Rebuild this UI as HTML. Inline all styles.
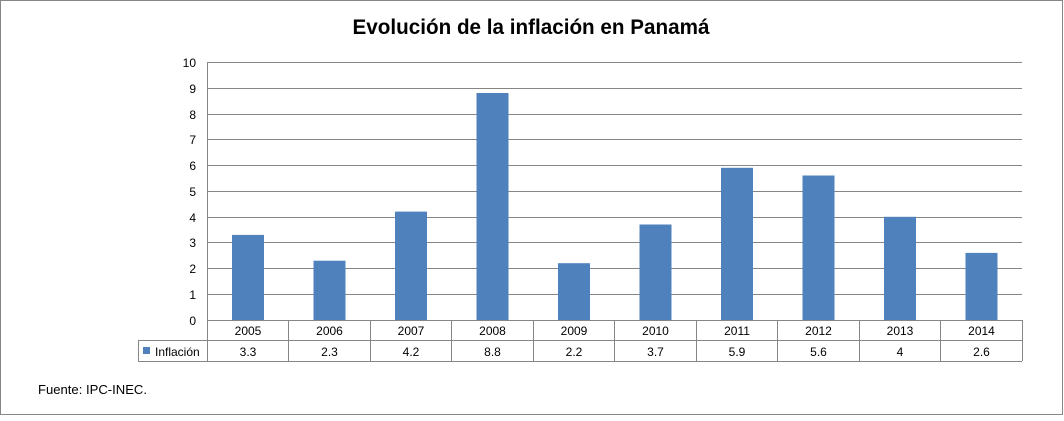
<!DOCTYPE html>
<html><head><meta charset="utf-8"><style>html,body{margin:0;padding:0;background:#fff}</style></head>
<body>
<svg width="1064" height="416" xmlns="http://www.w3.org/2000/svg" font-family="Liberation Sans, DejaVu Sans, sans-serif">
<rect x="0.5" y="0.5" width="1062" height="414" fill="#fff" stroke="#868686"/>
<text x="531" y="34" text-anchor="middle" font-size="21" font-weight="bold" fill="#000" textLength="357" lengthAdjust="spacingAndGlyphs">Evolución de la inflación en Panamá</text>
<g stroke="#868686" stroke-width="1">
<line x1="207" y1="62.5" x2="1022" y2="62.5"/>
<line x1="207" y1="88.5" x2="1022" y2="88.5"/>
<line x1="207" y1="114.5" x2="1022" y2="114.5"/>
<line x1="207" y1="139.5" x2="1022" y2="139.5"/>
<line x1="207" y1="165.5" x2="1022" y2="165.5"/>
<line x1="207" y1="191.5" x2="1022" y2="191.5"/>
<line x1="207" y1="217.5" x2="1022" y2="217.5"/>
<line x1="207" y1="242.5" x2="1022" y2="242.5"/>
<line x1="207" y1="268.5" x2="1022" y2="268.5"/>
<line x1="207" y1="294.5" x2="1022" y2="294.5"/>
</g>
<g fill="#4f81bd">
<rect x="232" y="234.9" width="32" height="85.1"/>
<rect x="313.5" y="260.7" width="32" height="59.3"/>
<rect x="395" y="211.6" width="32" height="108.4"/>
<rect x="476.5" y="93" width="32" height="227"/>
<rect x="558" y="263.2" width="32" height="56.8"/>
<rect x="639.5" y="224.5" width="32" height="95.5"/>
<rect x="721" y="167.8" width="32" height="152.2"/>
<rect x="802.5" y="175.5" width="32" height="144.5"/>
<rect x="884" y="216.8" width="32" height="103.2"/>
<rect x="965.5" y="252.9" width="32" height="67.1"/>
</g>
<g stroke="#868686" stroke-width="1" fill="none">
<line x1="207.5" y1="62" x2="207.5" y2="361"/>
<line x1="207" y1="320.5" x2="1022" y2="320.5"/>
<line x1="138" y1="340.5" x2="1022" y2="340.5"/>
<line x1="138" y1="361.5" x2="1022" y2="361.5"/>
<line x1="138.5" y1="340" x2="138.5" y2="361"/>
<line x1="1022.5" y1="320" x2="1022.5" y2="361"/>
<line x1="288.5" y1="320" x2="288.5" y2="361"/>
<line x1="370.5" y1="320" x2="370.5" y2="361"/>
<line x1="451.5" y1="320" x2="451.5" y2="361"/>
<line x1="533.5" y1="320" x2="533.5" y2="361"/>
<line x1="614.5" y1="320" x2="614.5" y2="361"/>
<line x1="696.5" y1="320" x2="696.5" y2="361"/>
<line x1="777.5" y1="320" x2="777.5" y2="361"/>
<line x1="859.5" y1="320" x2="859.5" y2="361"/>
<line x1="940.5" y1="320" x2="940.5" y2="361"/>
</g>
<g font-size="12" fill="#000" text-anchor="end">
<text x="196" y="67">10</text><text x="196" y="93">9</text><text x="196" y="119">8</text>
<text x="196" y="144">7</text><text x="196" y="170">6</text><text x="196" y="196">5</text>
<text x="196" y="222">4</text><text x="196" y="247">3</text><text x="196" y="273">2</text>
<text x="196" y="299">1</text><text x="196" y="325">0</text>
</g>
<g font-size="12" fill="#000" text-anchor="middle">
<text x="248" y="335">2005</text><text x="329.5" y="335">2006</text><text x="411" y="335">2007</text>
<text x="492.5" y="335">2008</text><text x="574" y="335">2009</text><text x="655.5" y="335">2010</text>
<text x="737" y="335">2011</text><text x="818.5" y="335">2012</text><text x="900" y="335">2013</text>
<text x="981.5" y="335">2014</text>
<text x="248" y="356">3.3</text><text x="329.5" y="356">2.3</text><text x="411" y="356">4.2</text>
<text x="492.5" y="356">8.8</text><text x="574" y="356">2.2</text><text x="655.5" y="356">3.7</text>
<text x="737" y="356">5.9</text><text x="818.5" y="356">5.6</text><text x="900" y="356">4</text>
<text x="981.5" y="356">2.6</text>
</g>
<rect x="143" y="347" width="7" height="7" fill="#4f81bd"/>
<text x="155" y="356" font-size="12" fill="#000">Inflación</text>
<text x="38" y="394" font-size="13" fill="#000" textLength="109" lengthAdjust="spacingAndGlyphs">Fuente: IPC-INEC.</text>
</svg>
</body></html>
